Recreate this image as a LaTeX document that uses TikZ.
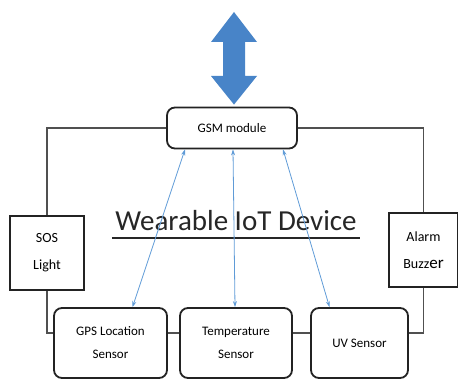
\documentclass[tikz,border=0pt]{standalone}
\usepackage{fontspec}
\setmainfont{Carlito}
\usetikzlibrary{arrows.meta, calc, positioning}
\definecolor{boxline}{RGB}{35,35,35}
\definecolor{wireline}{RGB}{80,80,80}
\definecolor{linkblue}{RGB}{95,155,215}
\definecolor{bigblue}{RGB}{72,132,200}
\tikzset{
    every picture/.style = {
        x = 1pt,
        y = -1pt
    },
    module/.style = {
        draw = boxline,
        line width = 1.8pt,
        rounded corners = 8pt,
        align = center,
        font = \fontsize{13}{23}\selectfont,
        inner sep = 0pt
    },
    outbox/.style = {
        draw = boxline,
        line width = 1.8pt,
        align = center,
        font = \fontsize{14}{27}\selectfont,
        inner sep = 0pt
    },
    wire/.style = {
        draw = wireline,
        line width = 1.3pt
    },
    link/.style = {
        draw = linkblue,
        line width = 0.8pt,
        {Stealth[length=6pt, width=4pt]}-{Stealth[length=6pt, width=4pt]}
    }
}

\begin{document}
\begin{tikzpicture}
    \useasboundingbox (0,0) rectangle (458,379);

    \node[module, minimum width = 130pt, minimum height = 41pt] (gsm) at (232,128) {GSM module};
    \node[outbox, minimum width = 74pt, minimum height = 74pt] (sos) at (47,253) {SOS\\Light};
    \node[outbox, minimum width = 69pt, minimum height = 74pt] (alarm) at (423.5,250) {Alarm\\Buzz{\fontsize{17}{17}\selectfont er}};
    \node[module, minimum width = 113pt, minimum height = 70pt] (gps) at (110.5,343) {GPS Location\\Sensor};
    \node[module, minimum width = 112pt, minimum height = 70pt] (temp) at (236,343) {Temperature\\Sensor};
    \node[module, minimum width = 97pt, minimum height = 70pt] (uv) at (359.5,343) {UV Sensor};

    \node[font = \fontsize{29}{29}\selectfont, text = black!85] (title) at (236,221) {Wearable IoT Device};
    \draw[line width = 2.5pt, black!85] ([yshift = -7pt]title.base west) -- ([yshift = -7pt]title.base east);

    % big two-way arrow on top of the GSM module
    \coordinate (top) at (234,12);
    \fill[bigblue] (top) -- (211,42) -- (223,42) -- (223,76) -- (211,76) -- ([yshift = 2pt]gsm.north -| top)
        -- (257,76) -- (245,76) -- (245,42) -- (257,42) -- cycle;

    % wiring
    \draw[wire] (gsm.west) -| (sos.north);
    \draw[wire] (gsm.east) -| (alarm.north);
    \draw[wire] (sos.south) |- ([yshift = 10pt]gps.west);
    \draw[wire] (alarm.south) |- ([yshift = 10pt]uv.east);
    \draw[wire] ([yshift = 10pt]gps.east) -- ([yshift = 10pt]temp.west);
    \draw[wire] ([yshift = 10pt]temp.east) -- ([yshift = 10pt]uv.west);

    % data links
    \draw[link] ([xshift = -47pt]gsm.south) -- ([xshift = 22pt]gps.north);
    \draw[link] ([xshift = 1pt]gsm.south) -- ([xshift = -1pt]temp.north);
    \draw[link] ([xshift = 51pt]gsm.south) -- ([xshift = -30pt]uv.north);
\end{tikzpicture}
\end{document}
